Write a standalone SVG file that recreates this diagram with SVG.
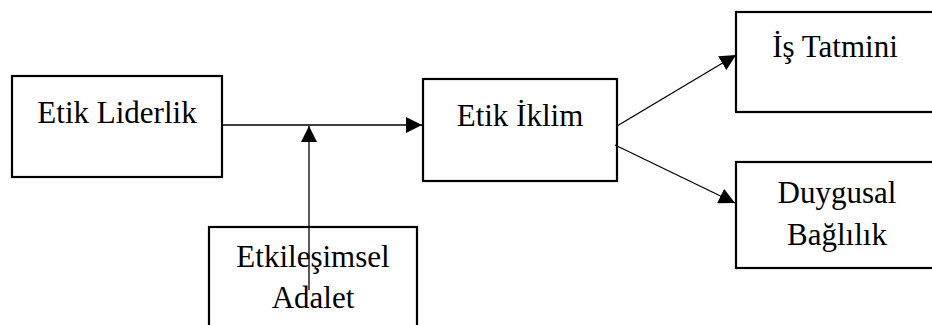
<svg xmlns="http://www.w3.org/2000/svg" width="932" height="325" viewBox="0 0 932 325">
<defs>
<style>
.box{fill:#fff;stroke:#000;stroke-width:2.2}
.t{font-family:"Liberation Serif","Times New Roman",serif;font-size:31px;fill:#000;text-anchor:middle}
.c{stroke:#000;stroke-width:1.3;fill:none}
</style>
<marker id="ah" viewBox="0 0 16 16" refX="16" refY="8" markerWidth="16" markerHeight="16" markerUnits="userSpaceOnUse" orient="auto">
<path d="M0,0 L16,8 L0,16 Z" fill="#000"/>
</marker>
</defs>
<rect width="932" height="325" fill="#fff"/>
<g id="etik-liderlik"><rect class="box" x="12" y="76" width="210" height="101"/><text class="t" x="117" y="123">Etik Liderlik</text></g>
<g id="etik-iklim"><rect class="box" x="423" y="79" width="194" height="102"/><text class="t" x="520" y="126">Etik İklim</text></g>
<g id="is-tatmini"><rect class="box" x="736" y="12" width="210" height="100"/><text class="t" x="835" y="57">İş Tatmini</text></g>
<g id="duygusal-baglilik"><rect class="box" x="736" y="162" width="210" height="106"/><text class="t" x="837" y="203">Duygusal</text><text class="t" x="837" y="245">Bağlılık</text></g>
<g id="etkilesimsel-adalet"><rect class="box" x="209" y="227" width="208" height="110"/><text class="t" x="313" y="267">Etkileşimsel</text><text class="t" x="313" y="308">Adalet</text></g>
<g id="connectors">
<path class="c" d="M222,125 L422,125" marker-end="url(#ah)"/>
<path class="c" d="M309,290 L309,126" marker-end="url(#ah)"/>
<path class="c" d="M617,126 L736,55" marker-end="url(#ah)"/>
<path class="c" d="M615,145 L735,203" marker-end="url(#ah)"/>
</g>
</svg>
